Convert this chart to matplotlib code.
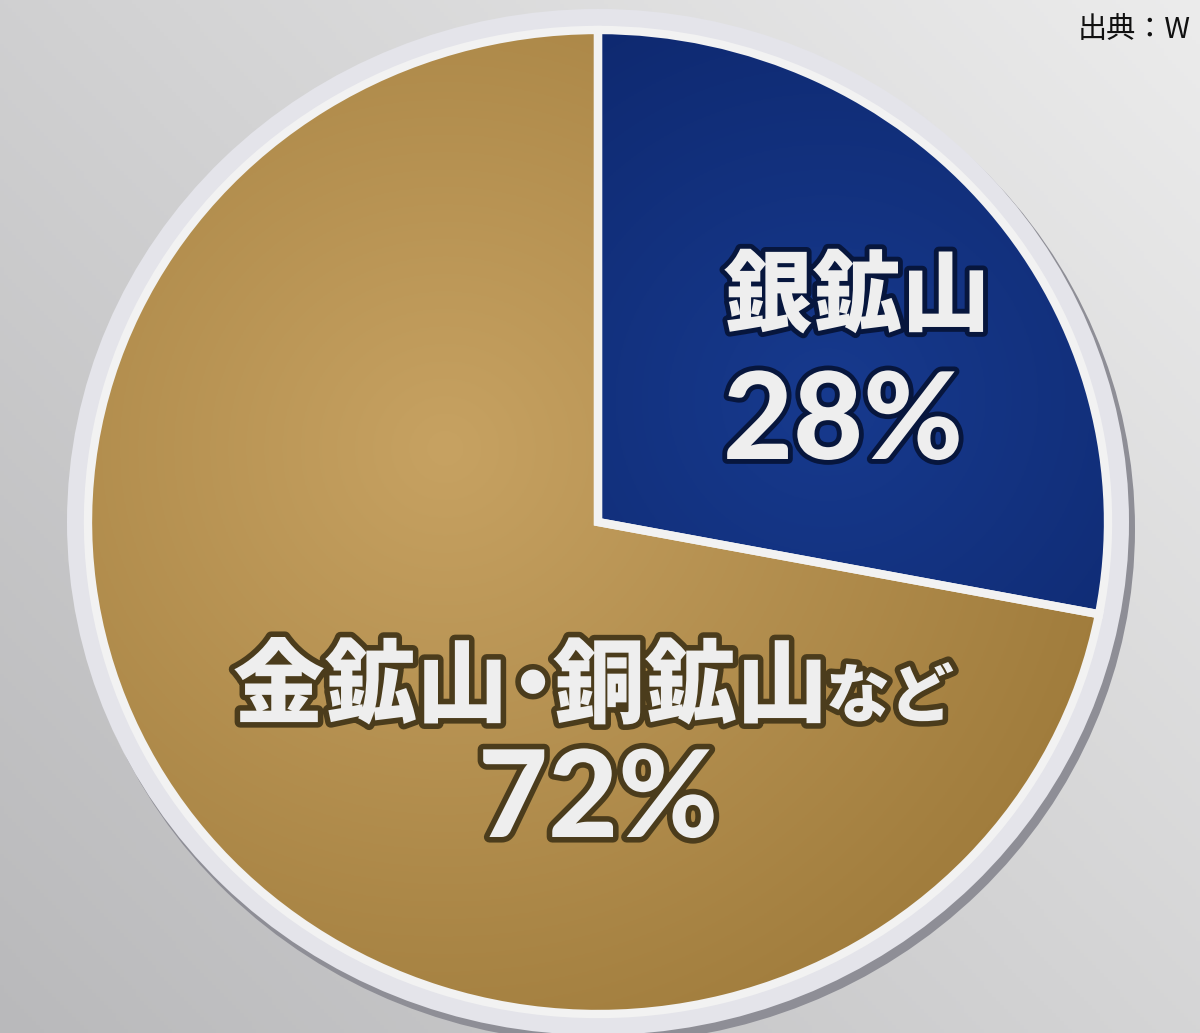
import numpy as np
import matplotlib.pyplot as plt
import matplotlib.patheffects as pe
from matplotlib.colors import to_rgb
from matplotlib.patches import Ellipse

plt.rcParams['font.family'] = ['Noto Sans CJK JP', 'DejaVu Sans']

# data
labels = ['銀鉱山', '金鉱山・銅鉱山など']
values = [28, 72]
pct_labels = ['28%', '72%']
colors = ['#0f2c78', '#bb9653']
source = '出典：W'

W, H = 1200, 1033
cx, cy = 598, 522      # pie centre in pixels (from top-left)
rx, ry = 510, 492      # photo is a bit squashed, so the pie is an ellipse

fig = plt.figure(figsize=(12, 10.33), dpi=100)
ax = fig.add_axes([0, 0, 1, 1])


def px(x, y):
    # pixel position -> data position (pie is a unit circle at 0,0)
    return (x - cx) / rx, (cy - y) / ry


# grey background, lighter to the upper right
yy, xx = np.mgrid[0:H:4, 0:W:4]
t = np.clip(0.55 * xx / W + 0.45 * (1 - yy / H), 0, 1)[..., None]
bg = np.array(to_rgb('#b9b9bb')) * (1 - t) + np.array(to_rgb('#ececec')) * t
x0, y0 = px(0, H)
x1, y1 = px(W, 0)
ax.imshow(bg, extent=(x0, x1, y0, y1), origin='upper', zorder=0, aspect='auto')

# rim with a soft shadow
sx, sy = 5 / rx, -7 / ry
ax.add_patch(Ellipse((sx, sy), 2 * (1 + 22 / rx), 2 * (1 + 22 / ry), fc='#8e8e96', ec='none', zorder=1))
ax.add_patch(Ellipse((0, 0), 2 * (1 + 21 / rx), 2 * (1 + 21 / ry), fc='#e4e4ea', ec='none', zorder=1.5))

wedges, _ = ax.pie(values, colors=colors, startangle=90, counterclock=False,
                   center=(0, 0), radius=1, wedgeprops=dict(edgecolor='none'))
for w in wedges:
    w.set_zorder(2)

# radial shading clipped to each wedge
gy, gx = np.mgrid[1:-1:400j, -1:1:400j]
shades = [('#173a8e', '#0a2060', (0.45, 0.25)),
          ('#c7a262', '#a07c3c', (-0.3, 0.15))]
for w, (c_in, c_out, (ox, oy)) in zip(wedges, shades):
    d = np.clip(np.hypot(gx - ox, gy - oy) / 1.35, 0, 1)[..., None]
    img = np.array(to_rgb(c_in)) * (1 - d) + np.array(to_rgb(c_out)) * d
    im = ax.imshow(img, extent=(-1, 1, -1, 1), origin='upper', zorder=3, aspect='auto')
    im.set_clip_path(w)

# white separating lines on top
edges, _ = ax.pie(values, startangle=90, counterclock=False, center=(0, 0), radius=1,
                  wedgeprops=dict(fill=False, edgecolor='#f2f2f2', linewidth=6))
for e in edges:
    e.set_zorder(4)

ax.set_xlim(x0, x1)
ax.set_ylim(y0, y1)
ax.set_aspect('auto')
ax.axis('off')

blue_fx = [pe.withStroke(linewidth=7, foreground='#07163d')]
gold_fx = [pe.withStroke(linewidth=8, foreground='#4b3c1c')]
txt = dict(fontweight='black', color='#eeeeee', zorder=5, va='center')

ax.text(*px(857, 298), labels[0], fontsize=64, ha='center', path_effects=blue_fx, **txt)
ax.text(*px(843, 424), pct_labels[0], fontsize=87, ha='center', path_effects=blue_fx,
        family='Lato', **txt)

ax.text(*px(508, 688), '金鉱山', fontsize=66, ha='right', path_effects=gold_fx, **txt)
ax.text(*px(533, 688), '•', fontsize=50, ha='center', path_effects=gold_fx,
        family='DejaVu Sans', **txt)
ax.text(*px(553, 688), '銅鉱山', fontsize=66, ha='left', path_effects=gold_fx, **txt)
ax.text(*px(826, 698), 'など', fontsize=46, ha='left', path_effects=gold_fx, **txt)
ax.text(*px(598, 802), pct_labels[1], fontsize=87, ha='center', path_effects=gold_fx,
        family='Lato', **txt)

ax.text(*px(1078, 30), source, fontsize=21, color='#111111', ha='left', va='center', zorder=5)

fig.savefig('out.png', dpi=100)
